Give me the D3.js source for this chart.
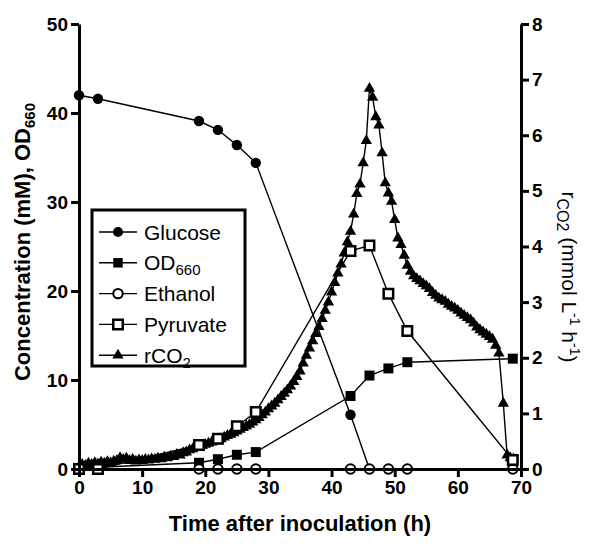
<!DOCTYPE html>
<html>
<head>
<meta charset="utf-8">
<script src="https://cdn.jsdelivr.net/npm/d3@7"></script>
<style>
  html, body { margin: 0; padding: 0; background: #fff; }
  svg { display: block; }
</style>
</head>
<body>
<svg id="chart" width="600" height="547"></svg>
<script>
// ---------- DATA ----------
const sampleTimes = [0, 3, 19, 22, 25, 28, 43, 46, 49, 52, 68.7];
const glucose  = [42.0, 41.6, 39.1, 38.1, 36.4, 34.4, 6.1, 0, 0, 0, 0];
const od660    = [0.1, 0.2, 0.7, 1.1, 1.6, 1.9, 8.2, 10.5, 11.3, 12.0, 12.4];
const ethanol  = [0, 0, 0, 0, 0, 0, 0, 0, 0, 0, 0];
const pyruvate = [0, 0, 2.7, 3.4, 4.8, 6.4, 24.5, 25.1, 19.7, 15.5, 1.0];

const rco2Times = [
  0, 0.5, 1, 1.5, 2, 2.5, 3, 3.5, 4, 4.5, 5, 5.5, 6, 6.5, 7, 7.5, 8, 8.5, 9, 9.5,
  10, 10.5, 11, 11.5, 12, 12.5, 13, 13.5, 14, 14.5, 15, 15.5, 16, 16.5, 17, 17.5, 18, 18.5, 19, 19.5,
  20, 20.5, 21, 21.5, 22, 22.5, 23, 23.5, 24, 24.5, 25, 25.5, 26, 26.5, 27, 27.5, 28, 28.5, 29, 29.5,
  30, 30.5, 31, 31.5, 32, 32.5, 33, 33.5, 34, 34.5, 35, 35.5, 36, 36.5, 37, 37.5, 38, 38.5, 39, 39.5,
  40, 40.5, 41, 41.5, 42, 42.5, 43, 43.5, 44, 44.5, 45, 45.5, 46, 46.5, 47, 47.5, 48, 48.5, 49, 49.5,
  50, 50.5, 51, 51.5, 52, 52.5, 53, 53.5, 54, 54.5, 55, 55.5, 56, 56.5, 57, 57.5, 58, 58.5, 59, 59.5,
  60, 60.5, 61, 61.5, 62, 62.5, 63, 63.5, 64, 64.5, 65, 65.5, 66, 66.5, 67.2, 67.8, 68.3, 68.8
];
const rco2Values = [
  0.04, 0.08, 0.06, 0.10, 0.08, 0.11, 0.09, 0.12, 0.10, 0.13, 0.11, 0.14, 0.15, 0.20, 0.17, 0.19, 0.15, 0.17, 0.14, 0.16,
  0.15, 0.17, 0.16, 0.18, 0.17, 0.19, 0.18, 0.21, 0.20, 0.23, 0.22, 0.26, 0.25, 0.29, 0.30, 0.34, 0.36, 0.39, 0.41, 0.42,
  0.44, 0.46, 0.48, 0.50, 0.52, 0.54, 0.57, 0.60, 0.62, 0.65, 0.68, 0.71, 0.74, 0.77, 0.80, 0.84, 0.88, 0.92, 0.97, 1.02,
  1.08, 1.13, 1.18, 1.24, 1.30, 1.36, 1.42, 1.49, 1.57, 1.66, 1.76, 1.90, 2.04, 2.17, 2.30, 2.43, 2.56, 2.70, 2.85, 3.00,
  3.18, 3.35, 3.52, 3.68, 3.88, 4.08, 4.27, 4.58, 4.95, 5.12, 5.50, 5.90, 6.84, 6.68, 6.33, 6.18, 5.68, 5.14, 4.96, 4.81,
  4.48, 4.15, 4.03, 3.84, 3.66, 3.55, 3.47, 3.42, 3.38, 3.33, 3.29, 3.24, 3.17, 3.12, 3.07, 3.04, 3.01, 2.96, 2.92, 2.89,
  2.85, 2.80, 2.76, 2.72, 2.68, 2.62, 2.55, 2.50, 2.46, 2.42, 2.38, 2.33, 2.22, 2.08, 1.18, 0.25, 0.20, 0.18
];

const xTicks = [0, 10, 20, 30, 40, 50, 60, 70];
const leftTicks = [0, 10, 20, 30, 40, 50];
const rightTicks = [0, 1, 2, 3, 4, 5, 6, 7, 8];
const legendLabels = ["Glucose", "OD", "Ethanol", "Pyruvate", "rCO"];
const legendSubs = ["", "660", "", "", "2"];

// ---------- CHART ----------
const svg = d3.select("#chart");
const FONT = "Liberation Sans, Arial, Helvetica, sans-serif";

const x = d3.scaleLinear().domain([0, 70]).range([79, 521]);
const yL = d3.scaleLinear().domain([0, 50]).range([469, 24]);
const yR = d3.scaleLinear().domain([0, 8]).range([469, 24]);

const gData = svg.append("g");

function series(times, vals) {
  return times.map((t, i) => [t, vals[i]]);
}
const lineL = d3.line().x(d => x(d[0])).y(d => yL(d[1]));
const lineR = d3.line().x(d => x(d[0])).y(d => yR(d[1]));

// rCO2
const rco2 = series(rco2Times, rco2Values);
gData.append("path").attr("d", lineR(rco2)).attr("fill", "none").attr("stroke", "#000").attr("stroke-width", 1.4);
const tri = d3.symbol().type(d3.symbolTriangle).size(56);
gData.selectAll(".tri").data(rco2).enter().append("path")
  .attr("d", tri).attr("transform", d => `translate(${x(d[0])},${yR(d[1])})`).attr("fill", "#000");

function drawSeries(vals, symType, size, filled, strokeW) {
  const data = series(sampleTimes, vals);
  gData.append("path").attr("d", lineL(data)).attr("fill", "none").attr("stroke", "#000").attr("stroke-width", 1.4);
  const sym = d3.symbol().type(symType).size(size);
  gData.append("g").selectAll("path").data(data).enter().append("path")
    .attr("d", sym).attr("transform", d => `translate(${x(d[0])},${yL(d[1])})`)
    .attr("fill", filled ? "#000" : "#fff").attr("stroke", "#000").attr("stroke-width", filled ? 0 : strokeW);
}
drawSeries(glucose, d3.symbolCircle, 85, true, 0);
drawSeries(od660, d3.symbolSquare, 100, true, 0);
drawSeries(ethanol, d3.symbolCircle, 70, false, 2);
drawSeries(pyruvate, d3.symbolSquare, 90, false, 2.5);

// ---------- AXES ----------
function styleAxis(g) {
  g.selectAll("path.domain").attr("stroke", "#000").attr("stroke-width", 3);
  g.selectAll(".tick line").attr("stroke", "#000").attr("stroke-width", 3);
  g.selectAll(".tick text").attr("fill", "#000").attr("font-family", FONT)
    .attr("font-weight", "bold").attr("font-size", 19);
}
svg.append("g").attr("transform", "translate(0,469)")
  .call(d3.axisBottom(x).tickValues(xTicks).tickFormat(d3.format("d")).tickSize(8).tickSizeOuter(0).tickPadding(4))
  .call(styleAxis);
svg.append("g").attr("transform", "translate(79,0)")
  .call(d3.axisLeft(yL).tickValues(leftTicks).tickFormat(d3.format("d")).tickSize(8).tickSizeOuter(0).tickPadding(3))
  .call(styleAxis);
svg.append("g").attr("transform", "translate(521,0)")
  .call(d3.axisRight(yR).tickValues(rightTicks).tickFormat(d3.format("d")).tickSize(8).tickSizeOuter(0).tickPadding(3))
  .call(styleAxis);

// axis titles
svg.append("text").attr("x", 300).attr("y", 531).attr("text-anchor", "middle")
  .attr("font-family", FONT).attr("font-weight", "bold").attr("font-size", 22)
  .text("Time after inoculation (h)");

const lt = svg.append("text").attr("transform", "translate(30,242) rotate(-90)").attr("text-anchor", "middle")
  .attr("font-family", FONT).attr("font-weight", "bold").attr("font-size", 22);
lt.append("tspan").text("Concentration (mM), OD");
lt.append("tspan").attr("font-size", 15).attr("dy", 5).text("660");

const rt = svg.append("text").attr("transform", "translate(562,277) rotate(90)").attr("text-anchor", "middle")
  .attr("font-family", FONT).attr("font-size", 21);
rt.append("tspan").text("r");
rt.append("tspan").attr("font-size", 16).attr("dy", 5).text("CO2");
rt.append("tspan").attr("dy", -5).text(" (mmol L");
rt.append("tspan").attr("font-size", 14).attr("dy", -8).text("-1");
rt.append("tspan").attr("dy", 8).text(" h");
rt.append("tspan").attr("font-size", 14).attr("dy", -8).text("-1");
rt.append("tspan").attr("dy", 8).text(")");

// ---------- LEGEND ----------
const lg = svg.append("g");
lg.append("rect").attr("x", 92).attr("y", 210).attr("width", 153).attr("height", 156)
  .attr("fill", "#fff").attr("stroke", "#000").attr("stroke-width", 3);
const legSyms = [
  {type: d3.symbolCircle, size: 80, filled: true},
  {type: d3.symbolSquare, size: 90, filled: true},
  {type: d3.symbolCircle, size: 70, filled: false, sw: 2},
  {type: d3.symbolSquare, size: 90, filled: false, sw: 2.5},
  {type: d3.symbolTriangle, size: 56, filled: true}
];
legendLabels.forEach((lab, i) => {
  const cy = 232 + i * 30.8;
  lg.append("line").attr("x1", 99).attr("x2", 137).attr("y1", cy).attr("y2", cy)
    .attr("stroke", "#000").attr("stroke-width", 1.4);
  const s = legSyms[i];
  lg.append("path").attr("d", d3.symbol().type(s.type).size(s.size)())
    .attr("transform", `translate(118,${cy})`)
    .attr("fill", s.filled ? "#000" : "#fff").attr("stroke", "#000").attr("stroke-width", s.filled ? 0 : s.sw);
  const t = lg.append("text").attr("x", 144).attr("y", cy + 7.5)
    .attr("font-family", FONT).attr("font-size", 21);
  t.append("tspan").text(lab);
  if (legendSubs[i]) t.append("tspan").attr("font-size", 15).attr("dy", 5).text(legendSubs[i]);
});
</script>
</body>
</html>
